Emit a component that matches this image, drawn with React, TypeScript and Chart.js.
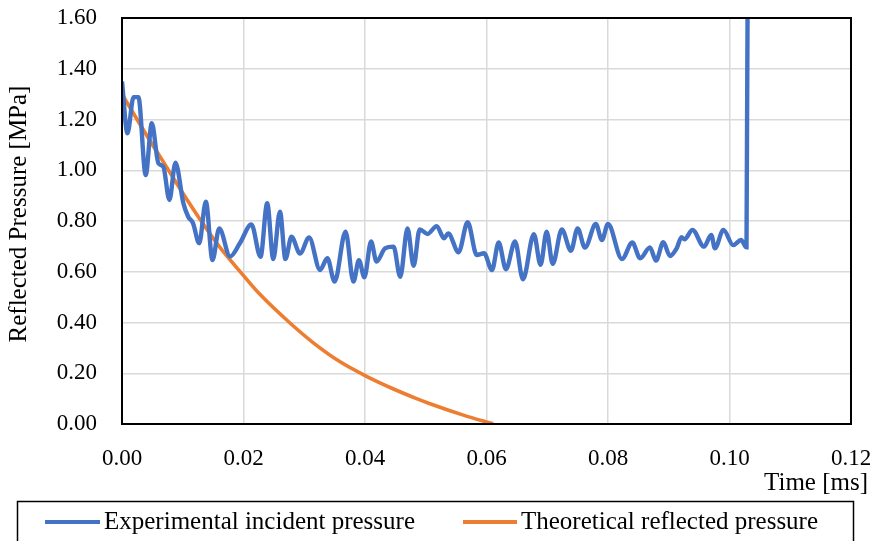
import React, { useEffect, useRef } from 'react';
import { Chart, registerables } from 'chart.js';

Chart.register(...registerables);

// ---- data ----
const expTime = [
  0, 0.0009, 0.0019, 0.0027, 0.0039, 0.0049, 0.006, 0.0068, 0.0078, 0.0088,
  0.0101, 0.0109, 0.0117, 0.0127, 0.0138, 0.0149, 0.016, 0.0178, 0.0194, 0.0213,
  0.0228, 0.0239, 0.0249, 0.026, 0.0269, 0.0279, 0.0293, 0.0308, 0.0326, 0.0338,
  0.035, 0.0368, 0.0381, 0.039, 0.0399, 0.041, 0.0419, 0.0433, 0.0447, 0.0458,
  0.047, 0.048, 0.049, 0.0503, 0.0518, 0.053, 0.0537, 0.0554, 0.0569, 0.0584,
  0.0596, 0.0609, 0.062, 0.0632, 0.0647, 0.066, 0.0678, 0.0689, 0.0699, 0.0709,
  0.0724, 0.0739, 0.075, 0.0762, 0.078, 0.079, 0.08, 0.0823, 0.084, 0.0853,
  0.0869, 0.0879, 0.0891, 0.0902, 0.0913, 0.0921, 0.0926, 0.0939, 0.0958, 0.097,
  0.0976, 0.099, 0.1006, 0.1019, 0.1028, 0.1031,
];
const expPressure = [
  1.35, 1.146, 1.288, 1.288, 0.981, 1.185, 1.027, 1.014, 0.883, 1.03,
  0.87, 0.817, 0.791, 0.712, 0.876, 0.646, 0.771, 0.66, 0.712, 0.786,
  0.659, 0.87, 0.65, 0.837, 0.65, 0.738, 0.672, 0.735, 0.607, 0.653,
  0.561, 0.758, 0.561, 0.646, 0.578, 0.719, 0.64, 0.692, 0.699, 0.58,
  0.771, 0.623, 0.767, 0.749, 0.78, 0.732, 0.751, 0.677, 0.795, 0.666,
  0.673, 0.607, 0.715, 0.61, 0.719, 0.57, 0.748, 0.627, 0.758, 0.631,
  0.767, 0.683, 0.771, 0.695, 0.788, 0.725, 0.788, 0.65, 0.715, 0.653,
  0.696, 0.644, 0.716, 0.662, 0.692, 0.736, 0.728, 0.765, 0.699, 0.745,
  0.692, 0.765, 0.705, 0.725, 0.696, 2.5,
];
const theoTime = [
  0, 0.004, 0.0074, 0.01, 0.0128, 0.016, 0.02, 0.0227, 0.02765, 0.0315,
  0.0359, 0.04, 0.0447, 0.0485, 0.0507, 0.0562, 0.0611,
];
const theoPressure = [
  1.3, 1.14, 1.01, 0.91, 0.808, 0.7, 0.585, 0.511, 0.398, 0.32,
  0.245, 0.191, 0.138, 0.1, 0.08, 0.035, 0.0,
];
const seriesNames = ['Experimental incident pressure', 'Theoretical reflected pressure'];
const seriesColors = ['#4472C4', '#ED7D31'];
const xTitle = 'Time [ms]';
const yTitle = 'Reflected Pressure [MPa]';
const xMin = 0;
const xMax = 0.12;
const xStep = 0.02;
const yMin = 0;
const yMax = 1.6;
const yStep = 0.2;

const FONT = '"Liberation Serif", "Times New Roman", serif';

export default function App() {
  const ref = useRef<HTMLCanvasElement | null>(null);

  useEffect(() => {
    const canvas = ref.current;
    if (!canvas) return;

    const overlay = {
      id: 'overlay',
      afterDatasetsDraw(chart: any) {
        const { ctx, chartArea: a } = chart;
        ctx.save();
        ctx.strokeStyle = '#000';
        ctx.lineWidth = 2;
        ctx.strokeRect(a.left, a.top, a.right - a.left, a.bottom - a.top);
        ctx.restore();
      },
      afterDraw(chart: any) {
        const ctx = chart.ctx as CanvasRenderingContext2D;
        ctx.save();
        ctx.fillStyle = '#000';
        ctx.font = `25px ${FONT}`;
        ctx.textBaseline = 'alphabetic';
        // x title
        ctx.textAlign = 'right';
        ctx.fillText(xTitle, 868, 490);
        // y title
        ctx.save();
        ctx.translate(26, 214);
        ctx.rotate(-Math.PI / 2);
        ctx.textAlign = 'center';
        ctx.fillText(yTitle, 0, 0);
        ctx.restore();

        // legend box
        ctx.strokeStyle = '#000';
        ctx.lineWidth = 1.5;
        ctx.strokeRect(17.5, 501.5, 836, 60);
        const items = [
          { x0: 45, x1: 100, tx: 104 },
          { x0: 463, x1: 517, tx: 521 },
        ];
        items.forEach((it, i) => {
          ctx.strokeStyle = seriesColors[i];
          ctx.lineWidth = 4;
          ctx.beginPath();
          ctx.moveTo(it.x0, 522);
          ctx.lineTo(it.x1, 522);
          ctx.stroke();
          ctx.fillStyle = '#000';
          ctx.textAlign = 'left';
          ctx.fillText(seriesNames[i], it.tx, 529);
        });
        ctx.restore();
      },
    };

    const chart = new Chart(canvas, {
      type: 'line',
      data: {
        datasets: [
          {
            label: seriesNames[0],
            data: expTime.map((t, i) => ({ x: t, y: expPressure[i] })),
            borderColor: seriesColors[0],
            backgroundColor: seriesColors[0],
            borderWidth: 4.4,
            pointRadius: 0,
            cubicInterpolationMode: 'monotone',
            fill: false,
          },
          {
            label: seriesNames[1],
            data: theoTime.map((t, i) => ({ x: t, y: theoPressure[i] })),
            borderColor: seriesColors[1],
            backgroundColor: seriesColors[1],
            borderWidth: 3.6,
            pointRadius: 0,
            cubicInterpolationMode: 'monotone',
            fill: false,
          },
        ],
      },
      options: {
        animation: false,
        responsive: false,
        maintainAspectRatio: false,
        events: [],
        layout: { padding: { left: 0, right: 26, top: 18, bottom: 0 } },
        plugins: {
          legend: { display: false },
          tooltip: { enabled: false },
          title: { display: false },
        },
        scales: {
          x: {
            type: 'linear',
            min: xMin,
            max: xMax,
            afterFit: (s: any) => {
              s.height = 117;
              s.paddingLeft = 0;
              s.paddingRight = 0;
            },
            ticks: {
              stepSize: xStep,
              padding: 21,
              color: '#000',
              font: { family: FONT, size: 23 },
              callback: (v: any) => Number(v).toFixed(2),
              maxRotation: 0,
              autoSkip: false,
            },
            grid: { color: '#D9D9D9', lineWidth: 1.5, drawTicks: false },
            border: { display: false },
          },
          y: {
            type: 'linear',
            min: yMin,
            max: yMax,
            afterFit: (s: any) => {
              s.width = 122;
              s.paddingTop = 0;
              s.paddingBottom = 0;
            },
            ticks: {
              stepSize: yStep,
              padding: 25,
              color: '#000',
              font: { family: FONT, size: 23 },
              callback: (v: any) => Number(v).toFixed(2),
              autoSkip: false,
            },
            grid: { color: '#D9D9D9', lineWidth: 1.5, drawTicks: false },
            border: { display: false },
          },
        },
      },
      plugins: [overlay],
    } as any);

    return () => {
      chart.destroy();
    };
  }, []);

  return (
    <div style={{ position: 'absolute', left: 0, top: 0, width: 877, height: 541 }}>
      <canvas ref={ref} width={877} height={541} style={{ display: 'block', width: 877, height: 541 }} />
    </div>
  );
}
